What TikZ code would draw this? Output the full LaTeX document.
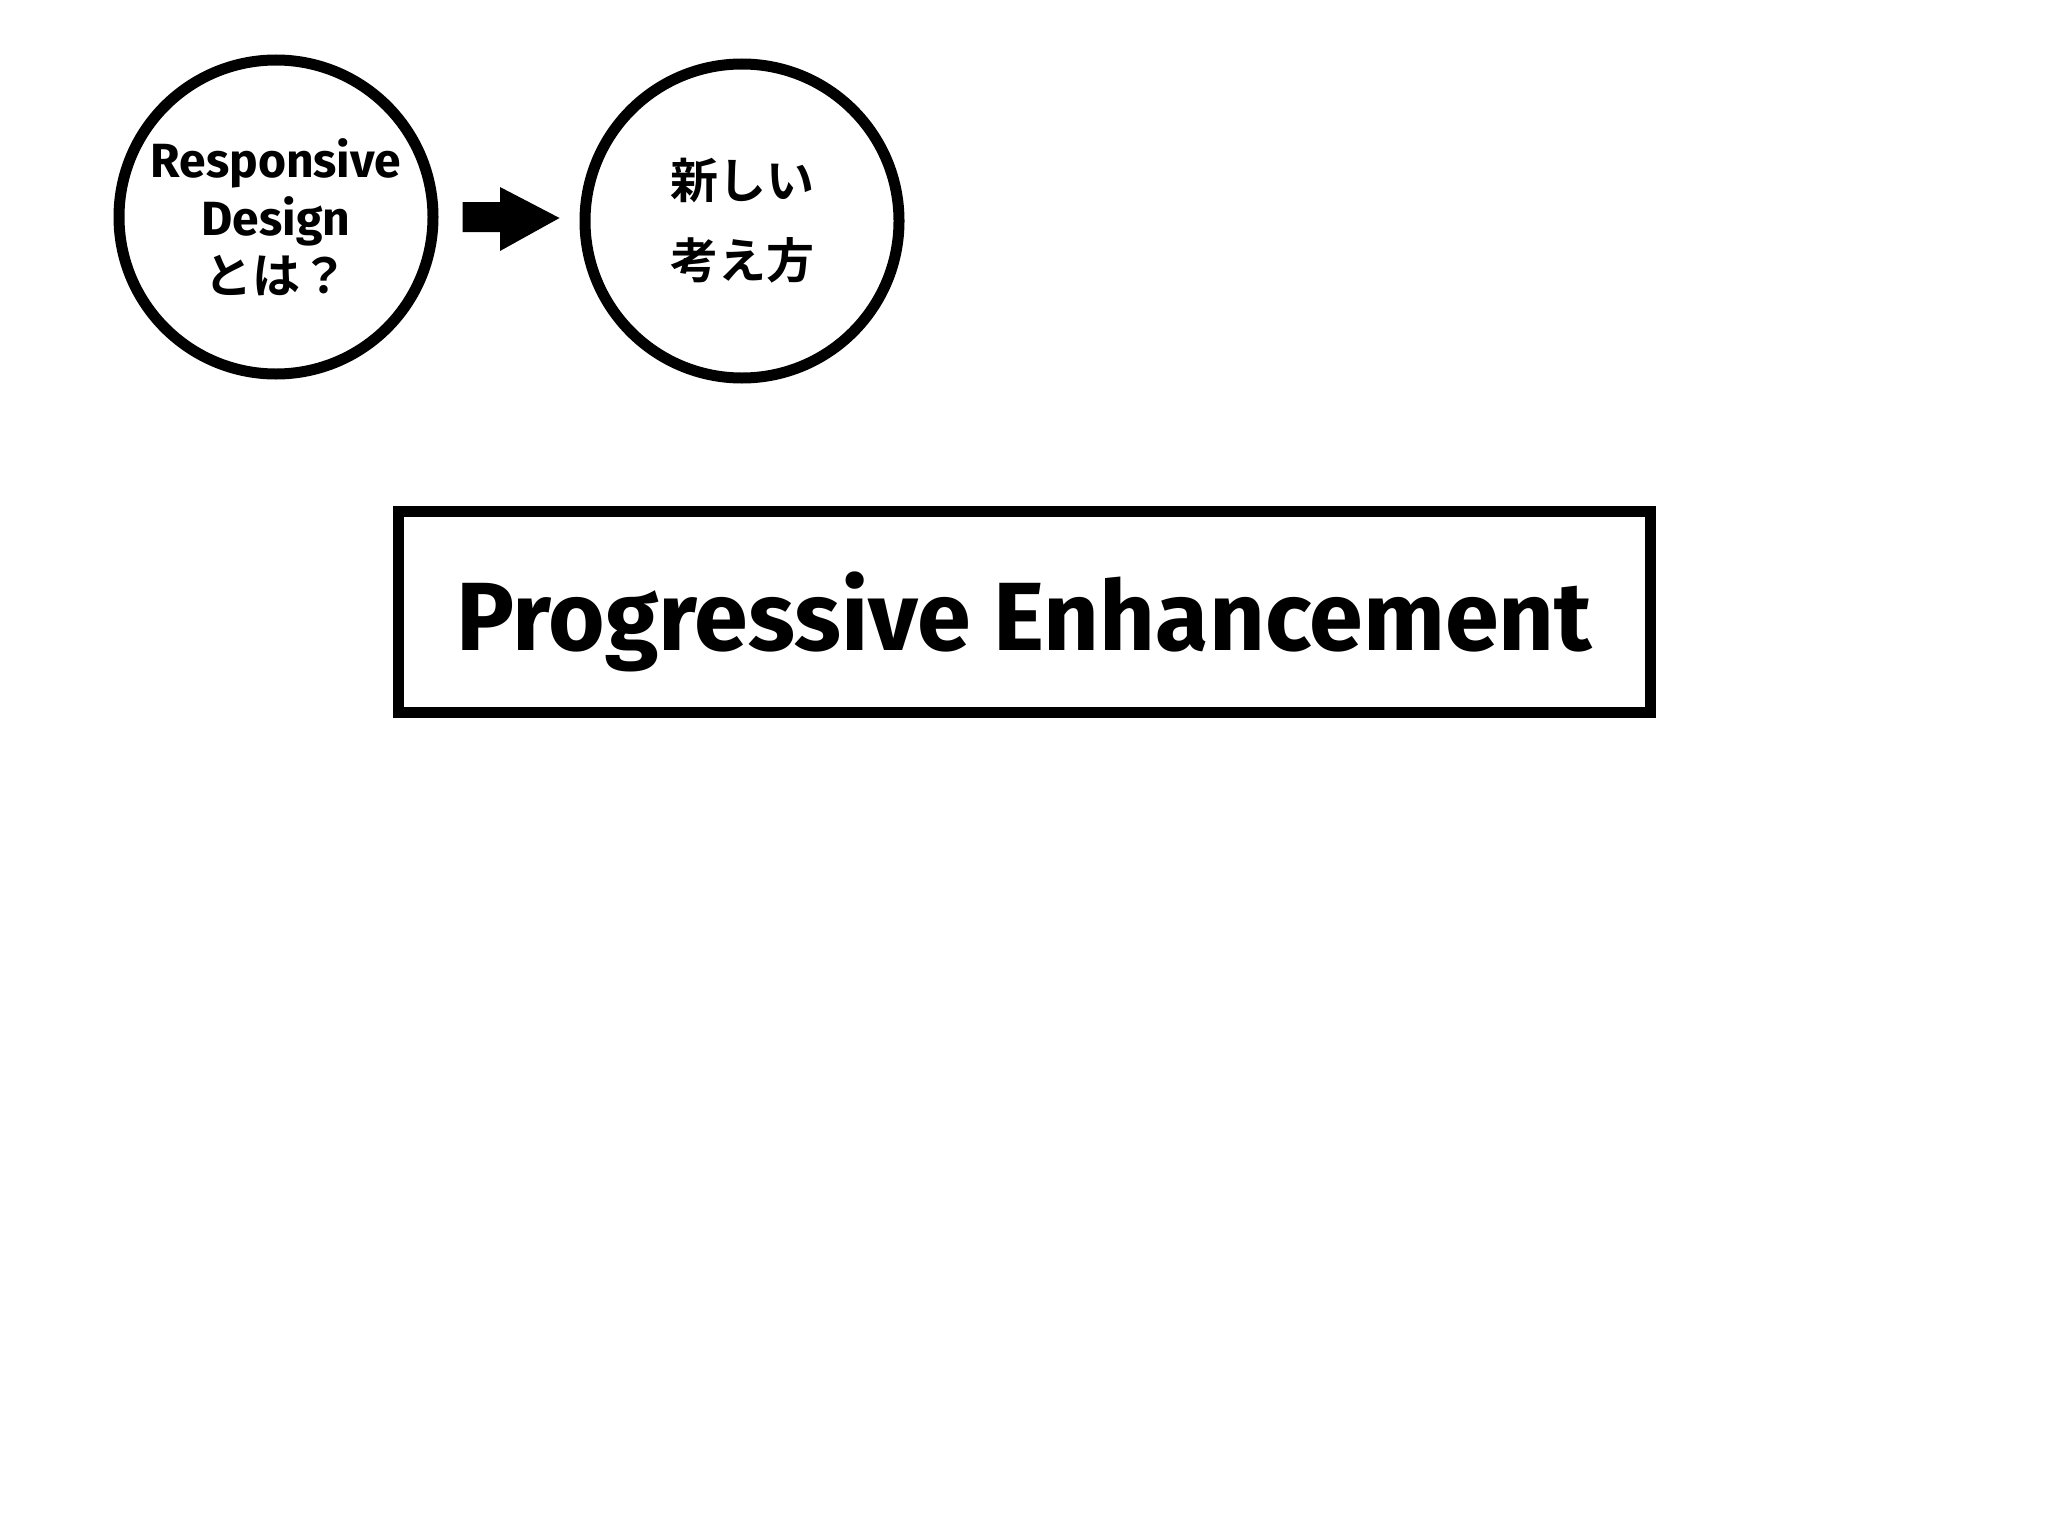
\documentclass[tikz,border=0pt]{standalone}
\usepackage{fontspec}
\setmainfont{Fira Sans}[UprightFont=* Bold]
\newfontfamily\cjk{Noto Sans CJK JP}[UprightFont=* Bold]
\usetikzlibrary{calc}
\begin{document}
\begin{tikzpicture}[x=0.5pt,y=-0.5pt,
  ring/.style={circle,draw,line width=5.5pt,minimum size=157pt,inner sep=0pt,align=center},
  titlebox/.style={rectangle,draw,line width=5.5pt,minimum width=626pt,minimum height=100.5pt,inner sep=0pt,text depth=0pt}]
\useasboundingbox (0,0) rectangle (2048,1536);
\node[ring,font=\fontsize{24pt}{29pt}\selectfont] (c1) at (276,217) {Responsive\\ Design\\ {\cjk とは？}};
\node[ring,font=\fontsize{24pt}{40pt}\selectfont\cjk] (c2) at (742,221) {新しい\\ 考え方};
\coordinate (a0) at ($(c1.east)+(24,0)$);
\coordinate (tip) at ($(c2.west)+(-20,-3)$);
\fill (a0|-0,202) -- (500,202) -- (500,187) -- (tip) -- (500,251) -- (500,232) -- (a0|-0,232) -- cycle;
\node[titlebox,font=\fontsize{48.5pt}{58pt}\selectfont] (pe) at (1024,611.5) {Progressive Enhancement};
\end{tikzpicture}
\end{document}
